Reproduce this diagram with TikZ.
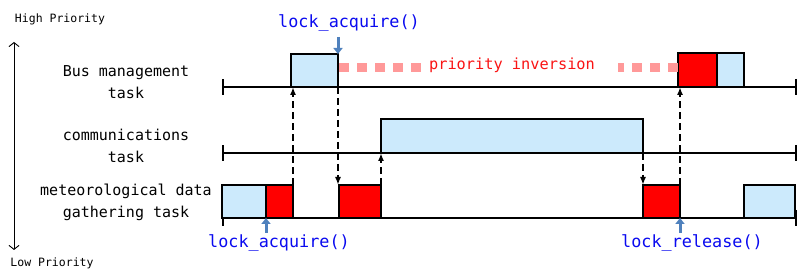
\documentclass[tikz,border=0pt]{standalone}
\usepackage{fontspec}
\setmonofont{DejaVu Sans Mono}
\usetikzlibrary{arrows.meta}
\definecolor{lblue}{RGB}{204,234,252}
\definecolor{pinkd}{RGB}{255,153,153}
\definecolor{steel}{RGB}{79,129,189}
\definecolor{labblue}{RGB}{10,10,240}
\definecolor{invred}{RGB}{250,20,20}
\begin{document}
\begin{tikzpicture}[x=1pt,y=-1pt,
  box/.style={draw=black, line width=2.5pt, outer sep=0pt, inner sep=0pt, anchor=south west},
  bluebox/.style={box, fill=lblue},
  redbox/.style={box, fill=red},
  tline/.style={line width=2.3pt, {Bar[width=16pt]}-{Bar[width=16pt]}},
  tasklabel/.style={font=\ttfamily\fontsize{15}{22}\selectfont, align=center, text=black},
  prio/.style={font=\ttfamily\fontsize{11.5}{13}\selectfont, text=black},
  lock/.style={font=\ttfamily\fontsize{16.8}{18}\selectfont, text=labblue},
  darr/.style={line width=1.8pt, dash pattern=on 7pt off 4pt, -{Latex[length=8pt,width=6pt]}},
  larr/.style={line width=3pt, steel, -{Triangle[length=6pt,width=9pt]}},
  pdash/.style={line width=9pt, pinkd, dash pattern=on 10pt off 8pt}
]
\useasboundingbox (0,0) rectangle (809,275);
\fill[white] (0,0) rectangle (809,275);

% priority axis
\node[prio] (hi) at (60,19) {High Priority};
\node[prio] (lo) at (52,263) {Low Priority};
\coordinate (atop) at (14,42);
\coordinate (abot) at (14,250);
\draw[line width=0.9pt, {Straight Barb[length=4pt,width=10pt]}-{Straight Barb[length=4pt,width=10pt]}] (atop) -- (abot);

% task labels
\node[tasklabel] (tb) at (126,82) {Bus management\\task};
\node[tasklabel] (tc) at (126,146) {communications\\task};
\node[tasklabel] (tm) at (126,202) {meteorological data\\gathering task};

% time lines
\coordinate (busL) at (222,87);   \coordinate (busR) at (797,87);
\coordinate (comL) at (222,153);  \coordinate (comR) at (797,153);
\coordinate (metL) at (222,218);  \coordinate (metR) at (797,218);
\draw[tline] (busL) -- (busR);
\draw[tline] (comL) -- (comR);
\draw[tline] (metL) -- (metR);

% boxes
\node[bluebox, minimum width=47pt, minimum height=33pt] (b1) at (291,87) {};
\node[redbox,  minimum width=39pt, minimum height=34pt] (b2) at (678,87) {};
\node[bluebox, minimum width=27pt, minimum height=34pt] (b3) at (717,87) {};
\node[bluebox, minimum width=262pt, minimum height=34pt] (c1) at (381,153) {};
\node[bluebox, minimum width=44pt, minimum height=33pt] (m1) at (222,218) {};
\node[redbox,  minimum width=27pt, minimum height=33pt] (m2) at (266,218) {};
\node[redbox,  minimum width=42pt, minimum height=33pt] (m3) at (339,218) {};
\node[redbox,  minimum width=37pt, minimum height=33pt] (m4) at (643,218) {};
\node[bluebox, minimum width=51pt, minimum height=33pt] (m5) at (744,218) {};

% priority inversion
\node[font=\ttfamily\fontsize{15.3}{17}\selectfont, text=invred] (pi) at (512,65) {priority inversion};
\coordinate (p1) at (339,68); \coordinate (p2) at (423,68);
\coordinate (p3) at (618,68); \coordinate (p4) at (678,68);
\draw[pdash] (p1) -- (p2);
\draw[pdash] (p4) -- (p3);

% context switch arrows
\draw[darr] (m2.north east) -- (m2.north east |- busL);
\draw[darr] (b1.south east) -- (b1.south east |- m3.north);
\draw[darr] (m3.north east) -- (m3.north east |- comL);
\draw[darr] (c1.south east) -- (c1.south east |- m4.north);
\draw[darr] (m4.north east) -- (m4.north east |- busL);

% lock labels
\node[lock] (la1) at (349,23) {lock\_acquire()};
\coordinate (la1s) at (338,37);
\draw[larr] (la1s) -- (b1.north east);
\node[lock] (la2) at (279,243) {lock\_acquire()};
\coordinate (la2s) at (266,233);
\draw[larr] (la2s) -- (m1.south east);
\node[lock] (la3) at (692,243) {lock\_release()};
\coordinate (la3s) at (680,233);
\draw[larr] (la3s) -- (m4.south east);
\end{tikzpicture}
\end{document}
